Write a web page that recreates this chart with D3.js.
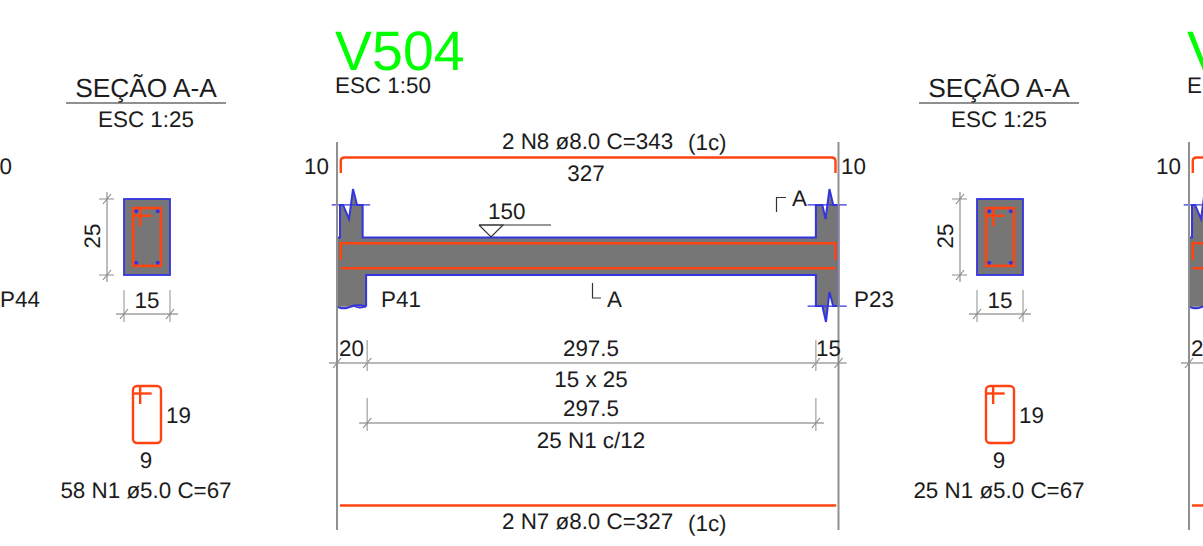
<!DOCTYPE html>
<html>
<head>
<meta charset="utf-8">
<script src="https://cdn.jsdelivr.net/npm/d3@7"></script>
<style>
  html, body { margin: 0; padding: 0; background: #fff; overflow: hidden; }
  svg { display: block; }
  text { font-family: "Liberation Sans", Arial, sans-serif; fill: #1c1c1c; font-size: 22.4px; text-rendering: geometricPrecision; }
</style>
</head>
<body>
<svg></svg>
<script>
// all geometry in cm
const spans = [20, 297.5, 15]
const stirrupSpan = 297.5
const sectionSize = [15, 25]
const stirrupSize = [9, 19]
const beamHeight = 25

const details = [
  {origin: 337, name: 'V504', esc: 'ESC 1:50', left: 'P41', right: 'P23', topBar: '2 N8 ø8.0 C=343', topLen: '327',
    load: '150', size: '15 x 25', stirrups: '25 N1 c/12', bottomBar: '2 N7 ø8.0 C=327', layers: '(1c)'},
  {origin: 1189, name: 'V504', esc: 'ESC 1:50', left: '', right: '', topBar: '', topLen: '',
    load: '', size: '', stirrups: '', bottomBar: '', layers: ''}
]
const sections = [
  {origin: 124, title: 'SEÇÃO A-A', esc: 'ESC 1:25', bars: '58 N1 ø5.0 C=67'},
  {origin: 977, title: 'SEÇÃO A-A', esc: 'ESC 1:25', bars: '25 N1 ø5.0 C=67'}
]

// concrete outline of the elevation, [cm along beam, cm above beam soffit]
const concrete = [
  [0, 25], [2, 25], [2, 46.7], [4, 46.7], [8, 37.3], [10.6, 57.3], [13.3, 46.7], [17, 46.7], [17, 25],
  [317.5, 25], [317.5, 46.7], [321.8, 46.7], [323.9, 37.3], [326.5, 57.3], [329, 46.7], [332.5, 46.7],
  [332.5, -20.7], [329, -20.7], [326.5, -11.3], [324.2, -31.3], [321.8, -20.7], [317.5, -20.7], [317.5, 0],
  [19.3, 0], [19.3, -21], [0, -21]
]
const wave = [[0, -21], [3, -22.5], [7, -22], [11, -20.3], [15, -20], [19.3, -21]]
const waveLow = [[11, -20.6], [15, -22.3], [19.3, -21]]
const breakLeft = [[-3.5, 46.7], [22, 46.7]]
const breakRightTop = [[312, 46.7], [338, 46.7]]
const breakRightBottom = [[312, -20.7], [338, -20.7]]
const topBar2 = [[2.5, 10], [2.5, 21.2], [330.5, 21.2], [330.5, 10]]
const lowBar = [[2.5, 4.5], [330.5, 4.5]]

const red = '#ff4411', blue = '#3434e0', grey = '#767676', dim = '#a0a0a0', ink = '#333'
const width = 1203, height = 546

const svg = d3.select('svg').attr('width', width).attr('height', height)

// elevation scales, 1.507px per cm along, 1.5px per cm up
const xE = d3.scaleLinear().domain([0, d3.sum(spans)]).range([0, 501.5])
const yE = d3.scaleLinear().domain([0, beamHeight]).range([275, 237.5])
const lineE = d3.line().x(d => xE(d[0])).y(d => yE(d[1]))
const smoothE = d3.line().x(d => xE(d[0])).y(d => yE(d[1])).curve(d3.curveBasis)

// section scales, 3px per cm
const xS = d3.scaleLinear().domain([0, sectionSize[0]]).range([0, 46])
const yS = d3.scaleLinear().domain([0, sectionSize[1]]).range([275, 199])

function label(g, x, y, str, anchor, size) {
  return g.append('text').attr('x', x).attr('y', y)
    .attr('text-anchor', anchor || 'start')
    .style('font-size', (size || 22.4) + 'px')
    .text(str)
}

function seg(g, x1, y1, x2, y2, color, w) {
  g.append('line').attr('x1', x1).attr('y1', y1).attr('x2', x2).attr('y2', y2)
    .attr('stroke', color).attr('stroke-width', w || 1)
}

function tick(g, x, y) {
  seg(g, x - 4, y + 5, x + 4, y - 5, '#888', 1.2)
}

// horizontal dimension line with slashes at each end
function dimH(g, x1, x2, y, top) {
  seg(g, x1 - 8, y, x2 + 8, y, dim, 1.4)
  seg(g, x1, top, x1, y + 8, dim, 1.2)
  seg(g, x2, top, x2, y + 8, dim, 1.2)
  tick(g, x1, y)
  tick(g, x2, y)
}

function drawElevation(d) {
  const g = svg.append('g').attr('transform', `translate(${d.origin},0)`)
  const total = d3.sum(spans)
  const edges = d3.cumsum(spans)
  const x20 = xE(edges[0]), x317 = xE(edges[1]), xEnd = xE(total)

  g.append('path').attr('d', lineE(concrete) + 'Z').attr('fill', grey).attr('stroke', 'none')
  g.append('path').attr('d', lineE(concrete.slice(0, 17))).attr('fill', 'none').attr('stroke', blue).attr('stroke-width', 2)
  g.append('path').attr('d', lineE(concrete.slice(16, 25))).attr('fill', 'none').attr('stroke', blue).attr('stroke-width', 2)
  g.append('path').attr('d', lineE([concrete[25], concrete[0]])).attr('fill', 'none').attr('stroke', blue).attr('stroke-width', 1.4)
  g.append('path').attr('d', smoothE(wave)).attr('fill', grey).attr('stroke', blue).attr('stroke-width', 2)
  g.append('path').attr('d', smoothE(waveLow)).attr('fill', 'none').attr('stroke', blue).attr('stroke-width', 1.4)
  ;[breakLeft, breakRightTop, breakRightBottom].forEach(b => {
    g.append('path').attr('d', lineE(b)).attr('fill', 'none').attr('stroke', blue).attr('stroke-width', 1.2)
  })

  // rebar in the beam
  g.append('path').attr('d', lineE(topBar2)).attr('fill', 'none').attr('stroke', red).attr('stroke-width', 2.4)
  g.append('path').attr('d', lineE(lowBar)).attr('fill', 'none').attr('stroke', red).attr('stroke-width', 2.4)

  // top bar schedule, hooks of 10
  const bar = d3.path()
  bar.moveTo(xE(2.5), 173)
  bar.lineTo(xE(2.5), 161)
  bar.quadraticCurveTo(xE(2.5), 157.5, xE(5), 157.5)
  bar.lineTo(xE(328), 157.5)
  bar.quadraticCurveTo(xE(330.5), 157.5, xE(330.5), 161)
  bar.lineTo(xE(330.5), 173)
  g.append('path').attr('d', bar.toString()).attr('fill', 'none').attr('stroke', red).attr('stroke-width', 2.4)
  // bottom bar schedule
  seg(g, xE(2), 505.5, xE(331), 505.5, red, 2.4)

  // faces
  seg(g, xE(0), 142, xE(0), 530, '#909090', 2)
  seg(g, xEnd, 142, xEnd, 530, '#909090', 2)

  // span dimensions
  seg(g, xE(0) - 8, 363, xEnd + 8, 363, dim, 1.4)
  ;[xE(0), x20, x317, xEnd].forEach(x => tick(g, x, 363))
  seg(g, x20, 340, x20, 371, dim, 1.2)
  seg(g, x317, 340, x317, 371, dim, 1.2)
  dimH(g, x20, xE(edges[0] + stirrupSpan), 423, 398)

  // load symbol
  g.append('path').attr('d', d3.line()([[142, 225], [154, 237], [166, 225], [142, 225]]))
    .attr('fill', '#fff').attr('stroke', ink).attr('stroke-width', 1.2)
  seg(g, 142, 225, 214, 225, ink, 1.2)

  // section cut marks
  g.append('path').attr('d', d3.line()([[439.5, 212], [439.5, 197.5], [449, 197.5]])).attr('fill', 'none').attr('stroke', ink).attr('stroke-width', 1.2)
  g.append('path').attr('d', d3.line()([[255.5, 283], [255.5, 298], [264, 298]])).attr('fill', 'none').attr('stroke', ink).attr('stroke-width', 1.2)

  label(g, -2, 70, d.name, 'start', 55.5).style('fill', '#00ff00')
  label(g, -2, 93, d.esc)
  label(g, -8, 174, '10', 'end')
  label(g, 165, 149, d.topBar)
  label(g, 351, 150, d.layers)
  label(g, 249, 181, d.topLen, 'middle')
  if (d.load) {
    label(g, 151, 219, d.load)
    label(g, 455, 206, 'A')
    label(g, 270, 307, 'A')
    label(g, 504, 174, '10')
    label(g, 44, 307, d.left)
    label(g, 517, 307, d.right)
    label(g, 479, 356, spans[2])
    label(g, 254, 356, spans[1], 'middle')
    label(g, 254, 387, d.size, 'middle')
    label(g, 254, 416, stirrupSpan, 'middle')
    label(g, 254, 448, d.stirrups, 'middle')
    label(g, 165, 529, d.bottomBar)
    label(g, 351, 531, d.layers)
  }
  label(g, 2, 356, spans[0])
}

function drawSection(d) {
  const g = svg.append('g').attr('transform', `translate(${d.origin},0)`)
  const cx = xS(sectionSize[0] / 2) - 1

  label(g, cx, 97, d.title, 'middle', 26.3)
  seg(g, cx - 80, 103, cx + 80, 103, '#222', 1.2)
  label(g, cx, 127, d.esc, 'middle')

  g.append('rect').attr('x', xS(0)).attr('y', yS(sectionSize[1]))
    .attr('width', xS(sectionSize[0]) - xS(0)).attr('height', yS(0) - yS(sectionSize[1]))
    .attr('fill', grey).attr('stroke', blue).attr('stroke-width', 1.8)

  // stirrup with hook, 9 x 19 inside the 15 x 25
  const sx = d3.scaleLinear().domain([0, stirrupSize[0]]).range([xS(3), xS(12)])
  const sy = d3.scaleLinear().domain([0, stirrupSize[1]]).range([yS(3), yS(22)])
  g.append('rect').attr('x', sx(0)).attr('y', sy(stirrupSize[1]))
    .attr('width', sx(stirrupSize[0]) - sx(0)).attr('height', sy(0) - sy(stirrupSize[1]))
    .attr('fill', 'none').attr('stroke', red).attr('stroke-width', 2.6)
  seg(g, sx(0), sy(16.5), sx(6), sy(16.5), red, 2.4)
  seg(g, sx(2.3), sy(19), sx(2.3), sy(13), red, 2.4)
  g.selectAll('circle').data([[1, 1], [8, 1], [1, 18], [8, 18]]).enter().append('circle')
    .attr('cx', p => sx(p[0])).attr('cy', p => sy(p[1]))
    .attr('r', 2).attr('fill', blue)

  // 25 dim
  seg(g, -17, 192, -17, 282, dim, 1.4)
  seg(g, -25, yS(sectionSize[1]), -10, yS(sectionSize[1]), dim, 1.2)
  seg(g, -25, yS(0), -10, yS(0), dim, 1.2)
  tick(g, -17, yS(sectionSize[1]))
  tick(g, -17, yS(0))
  g.append('text').attr('transform', `translate(-24,236) rotate(-90)`)
    .attr('text-anchor', 'middle').text(sectionSize[1])

  // 15 dim
  dimH(g, xS(0), xS(sectionSize[0]), 314, 290)
  label(g, cx + 1, 308, sectionSize[0], 'middle')

  // bent stirrup
  const bx = d3.scaleLinear().domain([0, stirrupSize[0]]).range([9, 37])
  const by = d3.scaleLinear().domain([0, stirrupSize[1]]).range([443, 386])
  g.append('rect').attr('x', bx(0)).attr('y', by(stirrupSize[1]))
    .attr('width', bx(stirrupSize[0]) - bx(0)).attr('height', by(0) - by(stirrupSize[1]))
    .attr('rx', 4).attr('fill', 'none').attr('stroke', red).attr('stroke-width', 2.4)
  seg(g, bx(0), by(16.5), bx(6), by(16.5), red, 2.4)
  seg(g, bx(2.3), by(19), bx(2.3), by(13), red, 2.4)
  label(g, 42, 423, stirrupSize[1])
  label(g, cx, 468, stirrupSize[0], 'middle')
  label(g, cx, 498, d.bars, 'middle')
}

details.forEach(drawElevation)
sections.forEach(drawSection)

// leftovers of the previous detail, cut by the page edge
label(svg, 12, 174, '10', 'end')
label(svg, 0, 307, 'P44')
</script>
</body>
</html>
